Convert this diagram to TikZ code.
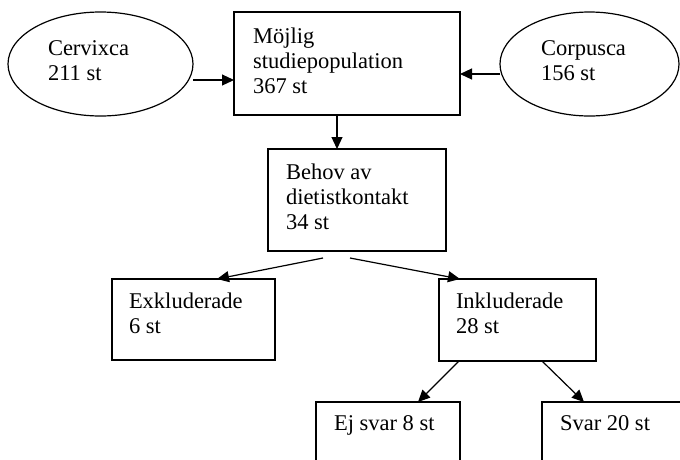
\documentclass[tikz,border=0pt]{standalone}
\usepackage{fontspec}
\setmainfont{Liberation Serif}
\usetikzlibrary{arrows.meta,calc}
\begin{document}
\begin{tikzpicture}[x=1pt,y=-1pt,
  frame/.style={draw,line width=1.2pt,anchor=north west,inner sep=0pt,outer sep=0pt},
  txt/.style={anchor=base west,inner sep=0pt,outer sep=0pt,align=left,
    font=\fontsize{22.5}{25}\selectfont},
  conn/.style={line width=1.2pt,-{Triangle[length=12pt,width=11pt]}}]
\useasboundingbox (0,0) rectangle (680,459);
\clip (0,0) rectangle (680,459);
% ellipses
\draw[line width=1.2pt] (100.5,64) ellipse [x radius=92.5, y radius=52];
\node[inner sep=0pt] (cerv) at (100.5,64) {};
\draw[line width=1.2pt] (589.5,64) ellipse [x radius=89.5, y radius=52];
\node[inner sep=0pt] (corp) at (589.5,64) {};
% texts are placed by the baseline of their last line
\node[txt] (cervt) at (48,80) {Cervixca\\211 st};
\node[txt] (corpt) at (541,80) {Corpusca\\156 st};
% boxes
\node[frame,minimum width=226pt,minimum height=103pt] (moj) at (234,12) {};
\node[txt] (mojt) at (253,93) {Möjlig\\studiepopulation\\367 st};
\node[frame,minimum width=178pt,minimum height=102pt] (beh) at (268,149) {};
\node[txt] (beht) at (286,229) {Behov av\\dietistkontakt\\34 st};
\node[frame,minimum width=163pt,minimum height=81pt] (exk) at (112,279) {};
\node[txt] (exkt) at (129,333) {Exkluderade\\6 st};
\node[frame,minimum width=157pt,minimum height=82pt] (ink) at (439,279) {};
\node[txt] (inkt) at (456,333) {Inkluderade\\28 st};
\node[frame,minimum width=144pt,minimum height=80pt] (ej) at (316,402) {};
\node[txt] (ejt) at (334,430) {Ej svar 8 st};
\node[frame,minimum width=160pt,minimum height=80pt] (svar) at (542,402) {};
\node[txt] (svart) at (560,430) {Svar 20 st};
% connectors
\draw[conn] ($(cerv)+(92.5,16)$) -- (moj.west |- 0,80);
\draw[conn] ($(corp)+(-89.5,10)$) -- (moj.east |- 0,74);
\draw[conn] (moj.south -| 337,0) -- (beh.north -| 337,0);
\draw[conn] ($(beh.south)+(-34,7)$) -- ($(exk.north)+(23.5,0)$);
\draw[conn] ($(beh.south)+(-7,7)$) -- ($(ink.north)+(-57.5,0)$);
\draw[conn] ($(ink.south west)+(20,0)$) -- ($(ej.north west)+(102,0)$);
\draw[conn] ($(ink.south west)+(103,0)$) -- ($(svar.north west)+(42,0)$);
\end{tikzpicture}
\end{document}
